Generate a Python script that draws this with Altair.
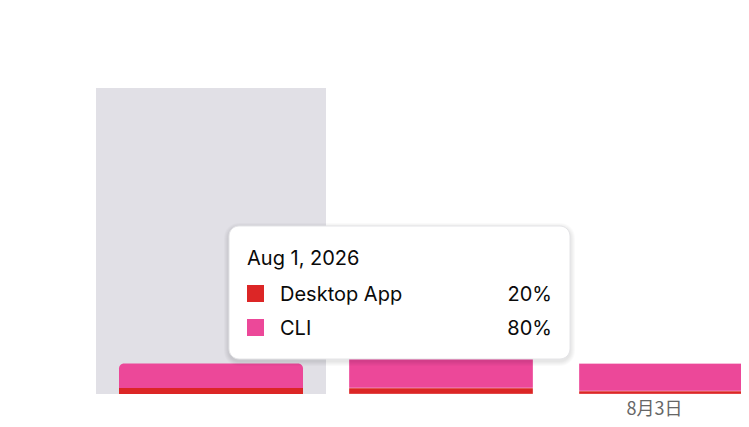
import altair as alt
import pandas as pd

# ---- data ----
day_pos = [1, 2, 3]
desktop_vals = [2, 2, 1]
cli_vals = [8, 11, 9]
series_names = ["Desktop App", "CLI"]
series_colors = ["#dc2626", "#ec4899"]
hover_pos = 1
y_max = 100
tick_pos = [3]
tick_labels = ["8月3日"]
tip_title = "Aug 1, 2026"
tip_pcts = ["20%", "80%"]

rows = []
for p, d, c in zip(day_pos, desktop_vals, cli_vals):
    rows.append({"pos": p, "series": series_names[0], "value": d, "order": 0})
    rows.append({"pos": p, "series": series_names[1], "value": c, "order": 1})
df = pd.DataFrame(rows)

W, H = 645, 306
xscale = alt.Scale(domain=[0.5, 0.5 + W / 230], zero=False, nice=False)
yscale = alt.Scale(domain=[0, y_max], zero=True, nice=False)
cscale = alt.Scale(domain=series_names, range=series_colors)

# hover band
band = alt.Chart(pd.DataFrame({"pos": [hover_pos], "top": [y_max]})).transform_calculate(
    a="datum.pos - 0.5", b="datum.pos + 0.5"
).mark_rect(color="#e1e0e6").encode(
    x=alt.X("a:Q", scale=xscale, axis=None),
    x2="b:Q",
    y=alt.Y("top:Q", scale=yscale, axis=None),
    y2=alt.datum(0),
)

base = alt.Chart(df).transform_stack(
    stack="value", groupby=["pos"], as_=["v0", "v1"], sort=[alt.SortField("order")]
).transform_calculate(a="datum.pos - 0.4", b="datum.pos + 0.4")

enc = dict(
    x=alt.X("a:Q", scale=xscale, axis=None),
    x2="b:Q",
    y=alt.Y("v0:Q", scale=yscale, axis=None),
    y2="v1:Q",
    color=alt.Color("series:N", scale=cscale, legend=None),
)

bars_other = base.transform_filter(f"datum.pos != {hover_pos}").mark_rect(
    clip=True, stroke="white", strokeOpacity=0.4, strokeWidth=0.8
).encode(**enc)
bars_hover_bottom = base.transform_filter(
    f"datum.pos == {hover_pos} && datum.order == 0"
).mark_rect(clip=True).encode(**enc)
bars_hover_top = base.transform_filter(
    f"datum.pos == {hover_pos} && datum.order == 1"
).mark_bar(clip=True, cornerRadiusTopLeft=5, cornerRadiusTopRight=5).encode(**enc)

ticks = alt.Chart(pd.DataFrame({"pos": tick_pos, "label": tick_labels})).mark_text(
    font="Noto Sans CJK SC", fontSize=18, color="#666666", baseline="middle", dx=-16.5
).encode(
    x=alt.X("pos:Q", scale=xscale, axis=None),
    y=alt.value(H + 16),
    text="label:N",
)

# tooltip overlay (pixel layout)
tx0, ty0, tx1, ty1 = 133, 138, 474, 271
one = pd.DataFrame({"k": [0]})
layers = [band, bars_other, bars_hover_bottom, bars_hover_top, ticks]
for k in [5, 4, 3, 2, 1]:
    layers.append(
        alt.Chart(one).mark_rect(
            color="black", opacity=0.018, cornerRadius=10 + k
        ).encode(
            x=alt.value(tx0 - k), x2=alt.value(tx1 + k),
            y=alt.value(ty0 - k + 2), y2=alt.value(ty1 + k + 2),
        )
    )
layers.append(
    alt.Chart(one).mark_rect(
        color="white", stroke="#e4e4e7", strokeWidth=1, cornerRadius=10
    ).encode(x=alt.value(tx0), x2=alt.value(tx1), y=alt.value(ty0), y2=alt.value(ty1))
)
layers.append(
    alt.Chart(pd.DataFrame({"t": [tip_title]})).mark_text(
        font="Inter", fontSize=20, color="#0a0a0a", align="left", baseline="alphabetic"
    ).encode(x=alt.value(151), y=alt.value(177), text="t:N")
)
row_y = [213, 247]
for name, col, pct, yb in zip(series_names, series_colors, tip_pcts, row_y):
    layers.append(
        alt.Chart(one).mark_rect(color=col).encode(
            x=alt.value(151), x2=alt.value(168), y=alt.value(yb - 16), y2=alt.value(yb + 1)
        )
    )
    layers.append(
        alt.Chart(pd.DataFrame({"t": [name]})).mark_text(
            font="Inter", fontSize=20, color="#0a0a0a", align="left", baseline="alphabetic"
        ).encode(x=alt.value(184), y=alt.value(yb), text="t:N")
    )
    layers.append(
        alt.Chart(pd.DataFrame({"t": [pct]})).mark_text(
            font="Inter", fontSize=20, color="#0a0a0a", align="right", baseline="alphabetic"
        ).encode(x=alt.value(456), y=alt.value(yb), text="t:N")
    )

chart = alt.layer(*layers).properties(
    width=W, height=H,
    autosize="none",
    padding={"left": 88, "top": 80, "right": 0, "bottom": 25},
    background="white",
).configure_view(stroke=None)

chart.save("out.html", embed_options={"renderer": "svg", "actions": False})
